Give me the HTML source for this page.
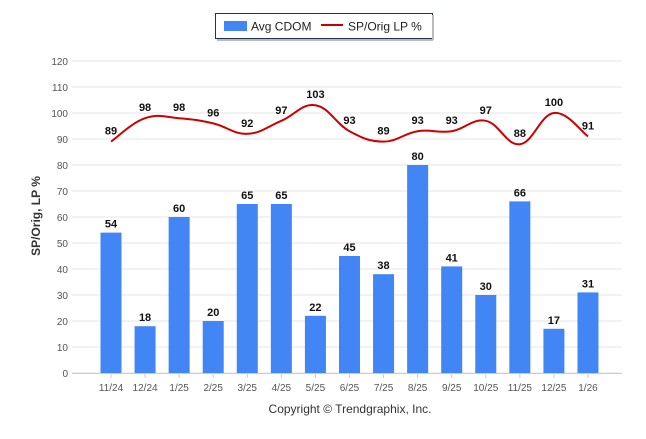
<!DOCTYPE html>
<html><head><meta charset="utf-8"><style>
body{margin:0;background:#fff;font-family:"Liberation Sans",sans-serif}
</style></head><body>
<svg id="c" width="646" height="434" xmlns="http://www.w3.org/2000/svg" font-family="Liberation Sans, sans-serif">
<g>
<rect x="215.5" y="13.5" width="217" height="25" fill="#fff" stroke="#1f3358" stroke-width="1"/>
<line x1="433" y1="15" x2="433" y2="40" stroke="#bbb" stroke-width="2"/>
<line x1="217" y1="40" x2="433" y2="40" stroke="#bbb" stroke-width="2"/>
<rect x="224" y="21" width="23" height="10" fill="#4285f4"/>
<text x="251" y="30.5" font-size="12" fill="#222">Avg CDOM</text>
<line x1="321" y1="25" x2="343" y2="25" stroke="#c00" stroke-width="2"/>
<text x="348" y="30.5" font-size="12" fill="#222">SP/Orig LP %</text>
</g>
<g id="grid"></g><g id="bars"></g><g id="line"></g><g id="labels"></g>
<text x="40" y="216" font-size="12" font-weight="bold" fill="#333" transform="rotate(-90 40 216)" text-anchor="middle">SP/Orig, LP %</text>
<text x="350" y="413" font-size="12" fill="#333" text-anchor="middle">Copyright © Trendgraphix, Inc.</text>
</svg>
<script>
const categories=["11/24","12/24","1/25","2/25","3/25","4/25","5/25","6/25","7/25","8/25","9/25","10/25","11/25","12/25","1/26"];
const cdom=[54,18,60,20,65,65,22,45,38,80,41,30,66,17,31];
const spPct=[89,98,98,96,92,97,103,93,89,93,93,97,88,100,91];
const yTicks=[0,10,20,30,40,50,60,70,80,90,100,110,120];
const NS="http://www.w3.org/2000/svg";
const y=v=>373-v*2.6;
const x=i=>111+i*34.07;
function mk(t,a,p){const e=document.createElementNS(NS,t);for(const k in a)e.setAttribute(k,a[k]);p.appendChild(e);return e;}
const g=document.getElementById('grid');
yTicks.forEach(v=>{
 const l=mk('line',{x1:72,x2:622,y1:y(v),y2:y(v),stroke:'#e6e6e6','stroke-width':1},g);
 
 
 const t=mk('text',{x:68,y:y(v)+4,'font-size':10,fill:'#555','text-anchor':'end'},g);t.textContent=v;
 
 
});
mk('line',{x1:72,x2:622,y1:373.5,y2:373.5,stroke:'#ccc'},g);
const b=document.getElementById('bars'),lb=document.getElementById('labels');
categories.forEach((c,i)=>{
 const r=mk('rect',{x:x(i)-10.5,y:y(cdom[i]),width:21,height:373-y(cdom[i]),fill:'#4285f4'},b);
 
 
 mk('line',{x1:x(i),x2:x(i),y1:373,y2:378,stroke:'#ccc'},g);
 const t=mk('text',{x:x(i),y:391,'font-size':10,fill:'#555','text-anchor':'middle'},g);t.textContent=c;
 
 
 const v=mk('text',{x:x(i),y:y(cdom[i])-5,'font-size':11,'font-weight':'bold',fill:'#111','text-anchor':'middle'},lb);v.textContent=cdom[i];
 
 
 const s=mk('text',{x:x(i),y:y(spPct[i])-7,'font-size':11,'font-weight':'bold',fill:'#111','text-anchor':'middle'},lb);s.textContent=spPct[i];
 
 
});
const P=spPct.map((v,i)=>[x(i),y(v)]);
let d='M'+P[0][0]+','+P[0][1];
for(let i=0;i<P.length-1;i++){
 const p0=P[i-1]||P[i],p1=P[i],p2=P[i+1],p3=P[i+2]||P[i+1],k=0.2;
 d+=` C${p1[0]+(p2[0]-p0[0])*k},${p1[1]+(p2[1]-p0[1])*k} ${p2[0]-(p3[0]-p1[0])*k},${p2[1]-(p3[1]-p1[1])*k} ${p2[0]},${p2[1]}`;
}
const ln=mk('path',{d:d,fill:'none',stroke:'#c00','stroke-width':2},document.getElementById('line'));


</script>
</body></html>
